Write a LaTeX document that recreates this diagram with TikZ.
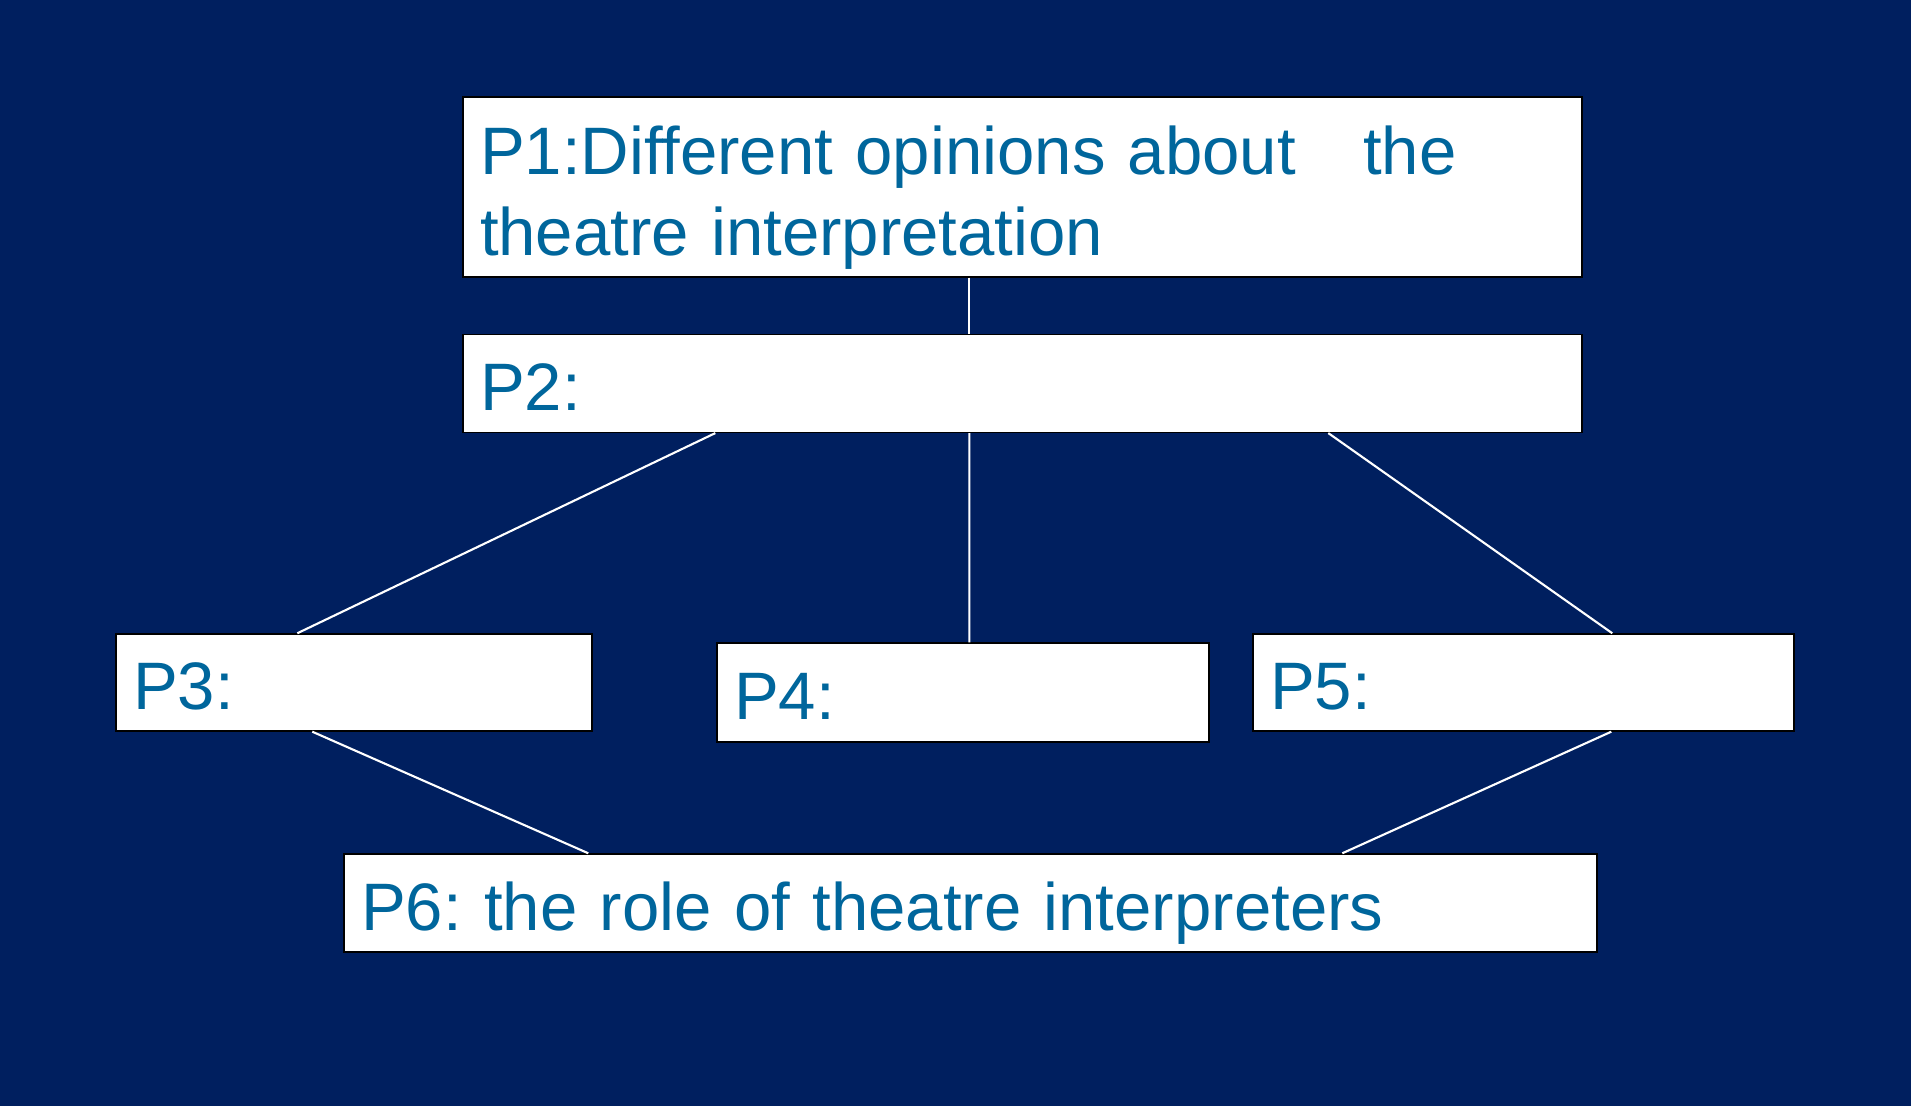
\documentclass[tikz,border=0pt]{standalone}
\usepackage{fontspec}
\setmainfont{Liberation Sans}
\usepackage{xcolor}
\usetikzlibrary{positioning,calc}

\definecolor{slidebg}{RGB}{0,31,95}
\definecolor{parablue}{RGB}{0,102,156}
\frenchspacing

\begin{document}
\begin{tikzpicture}[
    node distance=0.56cm,
    para/.style={rectangle, draw=black, line width=0.4pt, fill=white, text=parablue, font=\fontsize{19.1}{22.8}\selectfont, align=left, inner xsep=0.17cm, inner ysep=0pt, anchor=center},
    oneline/.style={para, text height=0.55cm, text depth=0pt},
    link/.style={draw=white, line width=0.6pt},
]
    % Background
    \fill[slidebg] (0,0) rectangle (19.11,11.06);
    \useasboundingbox (0,0) rectangle (19.11,11.06);

    % Paragraphs
    \node[para, minimum width=11.19cm, minimum height=1.80cm, text width=10.85cm] (p1) at (10.225,9.19) {\rule{0pt}{0.70cm}P1:Different opinions about\ \ \ the\\theatre interpretation};
    \node[oneline, minimum width=11.19cm, minimum height=0.98cm, text width=10.85cm, below=of p1] (p2) {P2:};
    \node[oneline, minimum width=4.76cm, minimum height=0.97cm, text width=4.42cm] (p3) at (3.54,4.235) {P3:};
    \node[oneline, minimum width=4.92cm, minimum height=0.99cm, text width=4.58cm] (p4) at (9.63,4.135) {P4:};
    \node[oneline, minimum width=5.41cm, minimum height=0.97cm, text width=5.07cm] (p5) at (15.235,4.235) {P5:};
    \node[oneline, minimum width=12.53cm, minimum height=0.98cm, text width=12.19cm] (p6) at (9.705,2.03) {P6: the role of theatre interpreters};

    % Links
    \draw[link] ($(p1.south west)+(5.07,0)$) -- ($(p2.north west)+(5.07,0)$);
    \draw[link] ($(p2.south west)+(2.53,0)$) -- ($(p3.north west)+(1.82,0)$);
    \draw[link] ($(p2.south west)+(5.07,0)$) -- ($(p4.north west)+(2.53,0)$);
    \draw[link] ($(p2.south west)+(8.66,0)$) -- ($(p5.north west)+(3.60,0)$);
    \draw[link] ($(p3.south west)+(1.97,0)$) -- ($(p6.north west)+(2.45,0)$);
    \draw[link] ($(p5.south west)+(3.59,0)$) -- ($(p6.north west)+(9.99,0)$);
\end{tikzpicture}
\end{document}
